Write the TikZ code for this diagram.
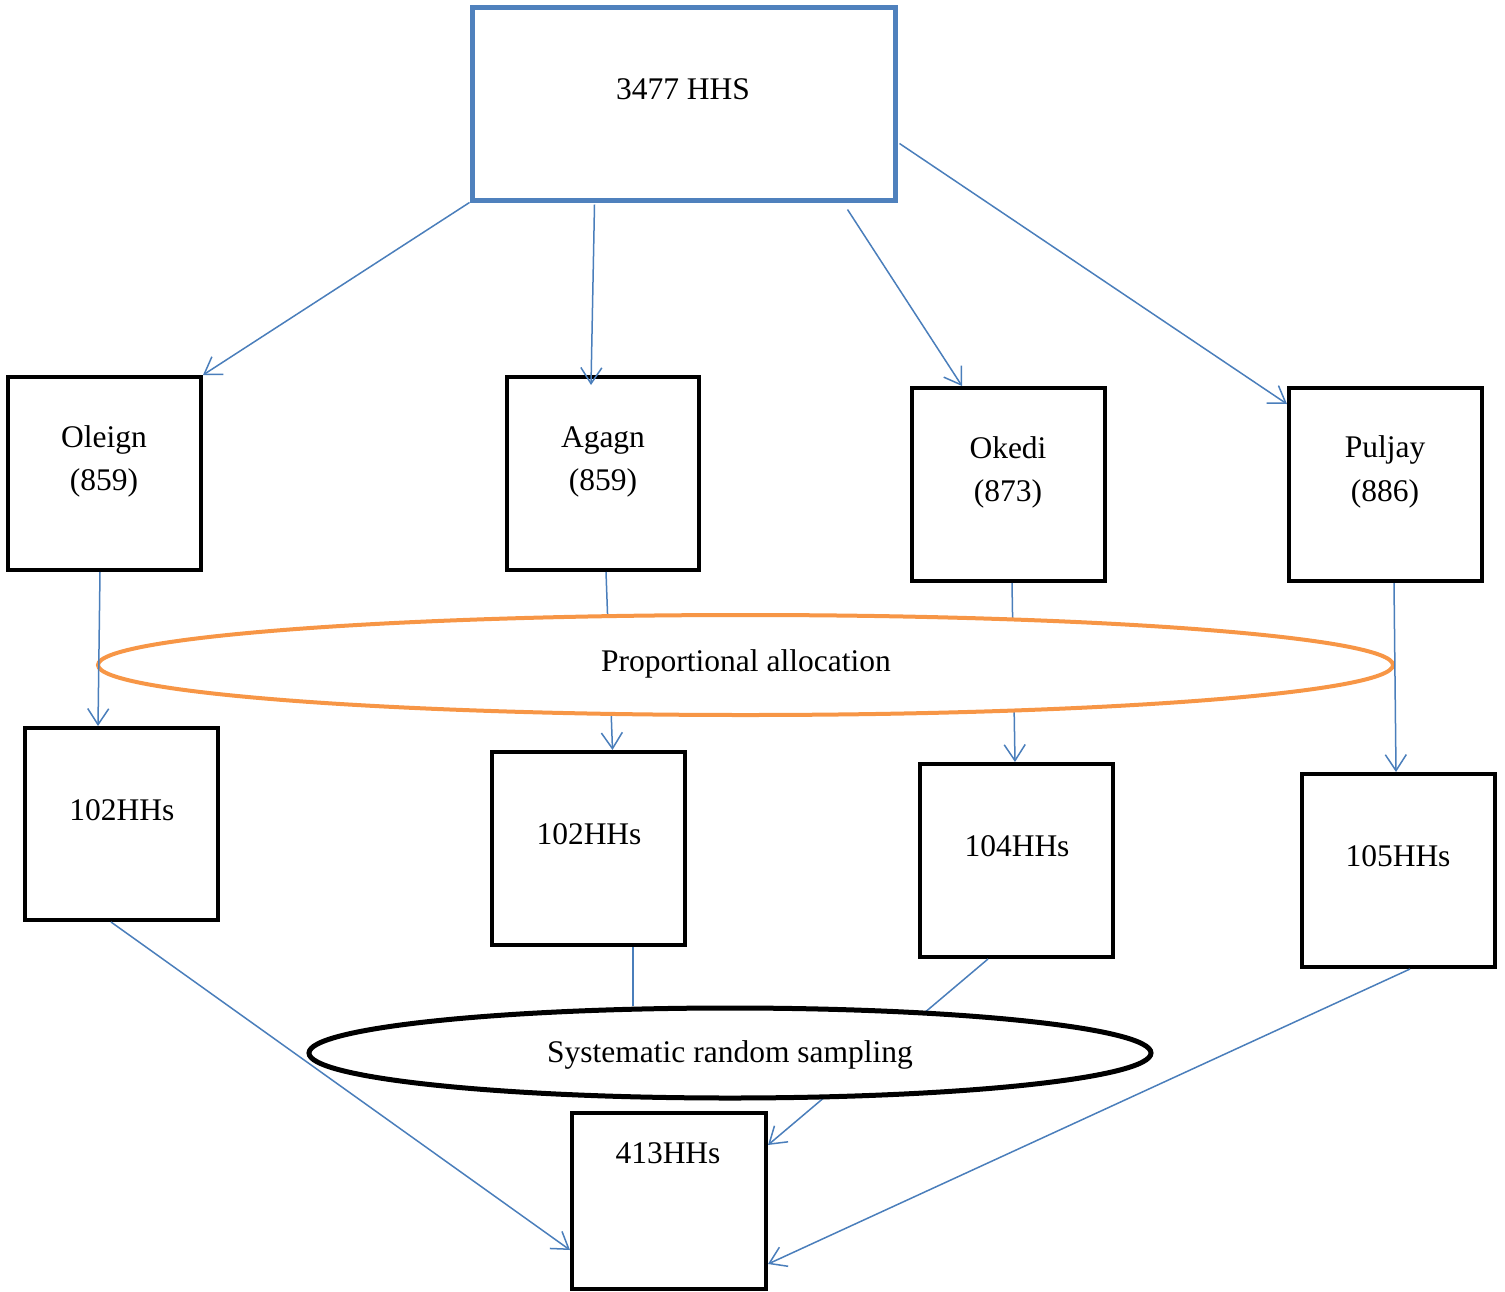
\documentclass[tikz,border=0pt]{standalone}
\usepackage{fontspec}
\setmainfont{Liberation Serif}
\usetikzlibrary{arrows.meta,shapes.geometric,calc}
\definecolor{boxblue}{RGB}{79,129,189}
\definecolor{linkblue}{RGB}{74,126,187}
\definecolor{ovorange}{RGB}{247,150,70}
\begin{document}
\begin{tikzpicture}[x=1pt,y=-1pt,
  blk/.style={draw=black,line width=4pt,rectangle,inner sep=0pt,minimum width=193pt,minimum height=193pt},
  lbl/.style={anchor=base,inner sep=0pt,font=\fontsize{31.5}{41}\selectfont},
  link/.style={draw=linkblue,line width=1.5pt},
  arr/.style={link,-{Straight Barb[length=16pt,width=21pt,line width=1.5pt]}}
]
\useasboundingbox (0,0) rectangle (1505,1291);
% top box
\node[draw=boxblue,line width=5pt,rectangle,inner sep=0pt,minimum width=423pt,minimum height=193pt] (top) at (683.5,103.5) {};
\node[lbl] (ttop) at (683,99) {3477 HHS};
% second row
\node[blk] (ol) at (104.5,473.5) {};
\node[blk,minimum width=192pt] (ag) at (603,473.5) {};
\node[blk] (ok) at (1008.5,484.5) {};
\node[blk] (pu) at (1385.5,484.5) {};
\node[lbl] (tol) at (104,447) {Oleign};
\node[lbl] (nol) at (104,490) {(859)};
\node[lbl] (tag) at (603,447) {Agagn};
\node[lbl] (nag) at (603,490) {(859)};
\node[lbl] (tok) at (1008,458) {Okedi};
\node[lbl] (nok) at (1008,501) {(873)};
\node[lbl] (tpu) at (1385,457) {Puljay};
\node[lbl] (npu) at (1385,501) {(886)};
% third row
\node[blk,minimum height=192pt] (h1) at (121.5,824) {};
\node[blk] (h2) at (588.5,848.5) {};
\node[blk] (h3) at (1016.5,860.5) {};
\node[blk] (h4) at (1398.5,870.5) {};
\node[lbl] (th1) at (122,820) {102HHs};
\node[lbl] (th2) at (589,844) {102HHs};
\node[lbl] (th3) at (1017,856) {104HHs};
\node[lbl] (th4) at (1398,866) {105HHs};
% final box
\node[blk,minimum width=194pt,minimum height=176pt] (fin) at (669,1201) {};
\node[lbl] (tfin) at (668,1163) {413HHs};
% arrows from top
\draw[arr] (top.south west) -- (ol.north east);
\draw[arr] ($(top.south west)+(125,2)$) -- ($(ag.north)+(-12,10)$);
\draw[arr] ($(top.south east)+(-50,7)$) -- ($(ok.north west)+(52,0)$);
\draw[arr] ($(top.north east)+(2,139)$) -- ($(pu.north west)+(0,18)$);
% lines behind the orange oval
\draw[arr] ($(ag.south)+(3,0)$) -- ($(h2.north)+(24,0)$);
\draw[arr] ($(ok.south)+(3.5,0)$) -- ($(h3.north)+(-1.5,0)$);
% lines behind the black oval
\draw[arr] ($(h3.south)+(-28.5,0)$) -- ($(fin.north east)+(0,34)$);
% orange oval
\node[ellipse,draw=ovorange,line width=4pt,fill=white,inner sep=0pt,minimum width=1295pt,minimum height=100pt] (prop) at (745.5,665) {};
\node[lbl] (tprop) at (746,671) {Proportional allocation};
% black oval
\node[ellipse,draw=black,line width=5pt,fill=white,inner sep=0pt,minimum width=842pt,minimum height=90pt] (sys) at (730,1053) {};
\node[lbl] (tsys) at (730,1062) {Systematic random sampling};
% lines over the ovals
\draw[arr] ($(ol.south)+(-4.5,0)$) -- ($(h1.north)+(-23.5,0)$);
\draw[arr] ($(pu.south)+(8.5,0)$) -- ($(h4.north)+(-2.5,0)$);
\draw[link] ($(h2.south)+(44.5,0)$) -- (sys.north -| {$(h2.south)+(44.5,0)$});
\draw[arr] ($(h1.south)+(-10.5,0)$) -- ($(fin.south west)+(0,-41)$);
\draw[arr] ($(h4.south)+(11.5,0)$) -- ($(fin.south east)+(0,-27)$);
\end{tikzpicture}
\end{document}
